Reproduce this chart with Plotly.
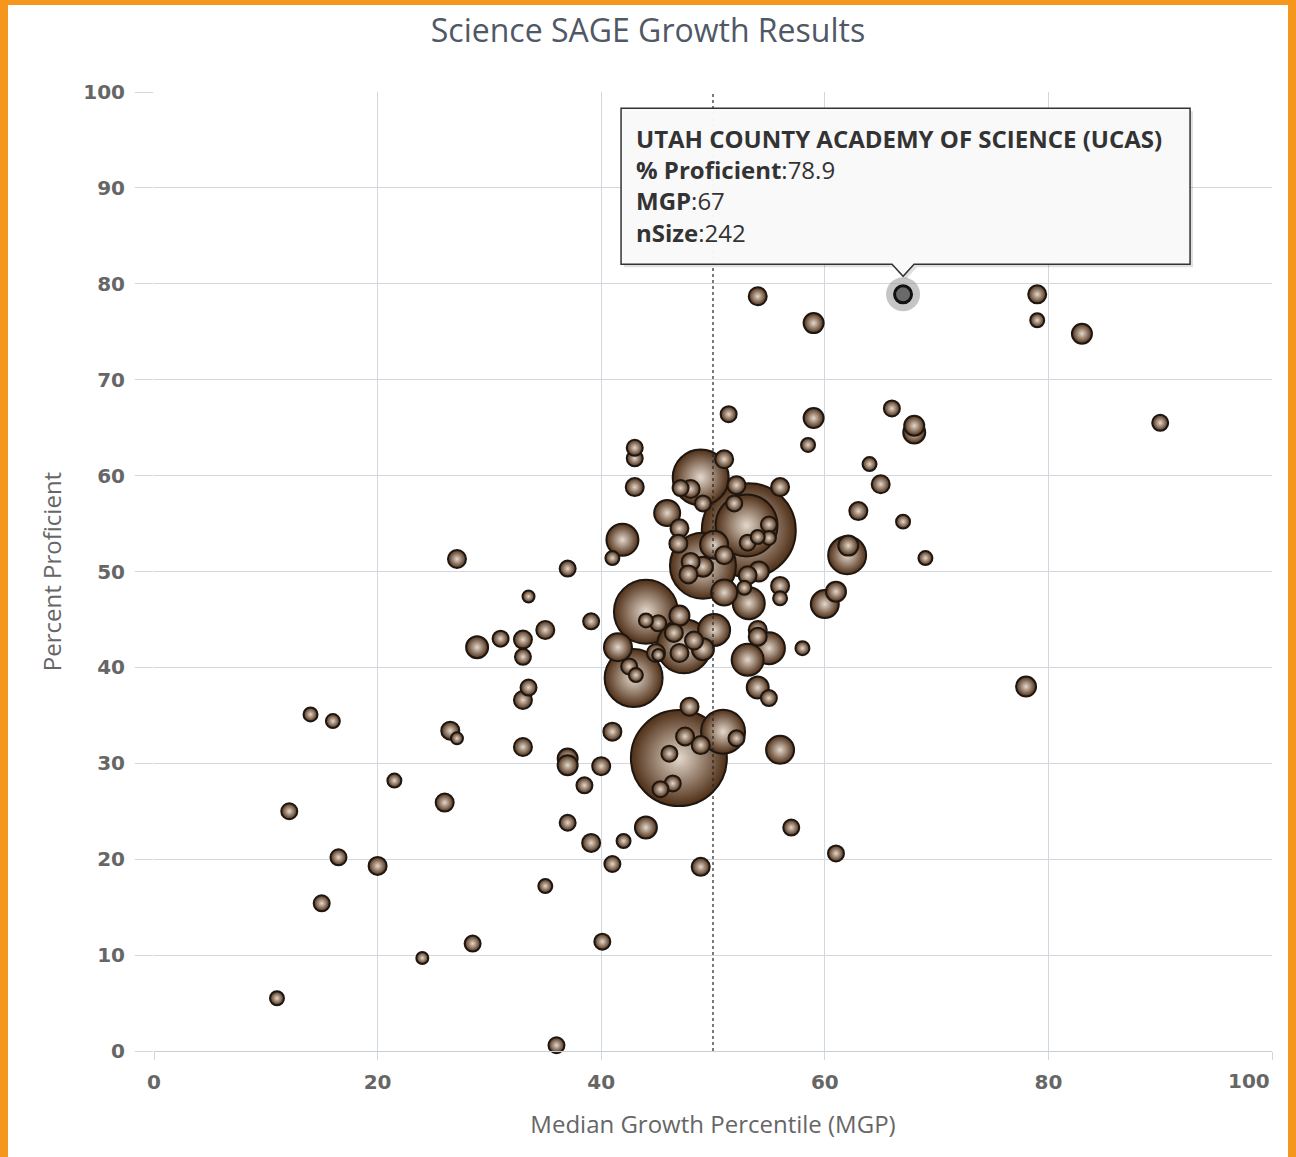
import plotly.graph_objects as go

title_text = "Science SAGE Growth Results"
x_title = "Median Growth Percentile (MGP)"
y_title = "Percent Proficient"

x_tick_vals = [0, 20, 40, 60, 80, 100]
y_tick_vals = [0, 10, 20, 30, 40, 50, 60, 70, 80, 90, 100]
reference_mgp = 50

# Median Growth Percentile per school
mgp = [11.0, 36.0, 24.0, 28.5, 40.1, 15.0, 35.0, 20.0, 16.5, 41.0,
       48.9, 61.0, 12.1, 26.0, 39.1, 42.0, 44.0, 37.0, 57.0, 21.5,
       38.5, 40.0, 37.0, 37.0, 33.0, 41.0, 26.5, 27.1, 14.0, 16.0,
       33.0, 33.5, 28.9, 31.0, 33.0, 33.0, 35.0, 33.5, 39.1, 27.1,
       37.0, 41.0, 41.9, 43.0, 43.0, 43.0, 51.4, 54.0, 59.0, 67.0,
       79.0, 79.0, 83.0, 90.0, 78.0, 66.0, 68.0, 68.0, 59.0, 58.5,
       64.0, 65.0, 63.0, 67.0, 69.0, 62.0, 62.1, 61.0, 60.0, 58.0,
       56.0, 56.0, 56.0, 56.0, 55.0, 54.0, 55.0, 53.1, 54.0, 54.0,
       53.2, 50.9, 52.1, 46.95, 47.9, 47.5, 48.9, 46.1, 46.4, 45.3,
       42.9, 42.5, 43.1, 44.0, 41.5, 44.0, 45.1, 47.0, 46.5, 44.9,
       45.1, 47.0, 48.3, 49.1, 50.1, 47.4, 51.0, 52.8, 54.1, 48.9,
       51.0, 47.1, 48.0, 49.1, 52.1, 53.2, 53.0, 51.9, 55.0, 55.0,
       54.0, 53.1, 45.9, 47.0, 46.9, 50.1, 51.0, 49.1, 48.0, 49.1,
       47.8, 53.1]

# Percent proficient per school
pct_proficient = [5.5, 0.6, 9.7, 11.2, 11.4, 15.4, 17.2, 19.3, 20.2, 19.5,
                  19.2, 20.6, 25.0, 25.9, 21.7, 21.9, 23.3, 23.8, 23.3, 28.2,
                  27.7, 29.7, 30.5, 29.8, 31.7, 33.3, 33.4, 32.6, 35.1, 34.4,
                  36.6, 37.9, 42.1, 43.0, 42.9, 41.1, 43.9, 47.4, 44.8, 51.3,
                  50.3, 51.4, 53.3, 58.8, 61.8, 62.9, 66.4, 78.7, 75.9, 78.9,
                  78.9, 76.2, 74.8, 65.5, 38.0, 67.0, 65.2, 64.5, 66.0, 63.2,
                  61.2, 59.1, 56.3, 55.2, 51.4, 51.7, 52.7, 47.9, 46.6, 42.0,
                  31.4, 48.5, 47.2, 58.8, 36.8, 37.9, 42.0, 40.8, 43.9, 43.2,
                  46.7, 33.3, 32.6, 30.55, 35.9, 32.8, 31.9, 31.0, 27.9, 27.3,
                  38.9, 40.1, 39.2, 45.8, 42.1, 44.9, 44.6, 45.4, 43.6, 41.5,
                  41.3, 41.5, 42.8, 41.9, 43.9, 42.2, 47.8, 48.3, 50.0, 59.8,
                  61.7, 58.7, 58.6, 57.1, 59.0, 54.3, 54.8, 57.1, 54.9, 53.5,
                  53.6, 53.0, 56.1, 54.5, 52.9, 52.8, 51.7, 50.6, 51.0, 50.5,
                  49.7, 49.6]

# Number of students tested per school
n_size = [185, 242, 136, 242, 242, 242, 185, 306, 242, 242,
          306, 242, 242, 306, 306, 185, 457, 242, 242, 185,
          242, 306, 378, 378, 306, 306, 306, 136, 185, 185,
          306, 242, 457, 242, 306, 242, 306, 136, 242, 306,
          242, 185, 968, 306, 242, 242, 242, 306, 378, 242,
          306, 185, 378, 242, 378, 242, 378, 457, 378, 185,
          185, 306, 306, 185, 185, 1365, 378, 378, 741, 185,
          741, 306, 185, 306, 242, 457, 968, 968, 306, 306,
          968, 1830, 242, 8712, 306, 306, 306, 242, 242, 242,
          3180, 242, 185, 3872, 741, 185, 242, 378, 306, 306,
          136, 306, 306, 457, 968, 2757, 639, 185, 378, 2964,
          306, 242, 306, 242, 306, 8353, 3633, 242, 242, 185,
          185, 242, 639, 306, 306, 741, 306, 4118, 306, 378,
          306, 306]

highlight_name = "UTAH COUNTY ACADEMY OF SCIENCE (UCAS)"
highlight_mgp = 67.0
highlight_pct = 78.9
highlight_n = 242

# ---- styling ----
W, H = 1296, 1157
ML, MR, MT, MB = 154, 24, 92, 106
PW, PH = W - ML - MR, H - MT - MB
orange = "#f5961d"
grid_col = "#d3d8e0"
label_col = "#666666"
font_fam = "Open Sans, Noto Sans, sans-serif"
tick_fam = "DejaVu Sans, Verdana, sans-serif"

# draw large bubbles first so the small ones sit on top
order = sorted(range(len(mgp)), key=lambda i: -n_size[i])
xs = [mgp[i] for i in order]
ys = [pct_proficient[i] for i in order]
ns = [n_size[i] for i in order]

sizeref = 2.0 * 242 / (16 ** 2)

fig = go.Figure()
fig.add_trace(go.Scatter(
    x=xs, y=ys, mode="markers",
    marker=dict(size=ns, sizemode="area", sizeref=sizeref,
                color="#4e2e16",
                gradient=dict(type="radial", color="#e4d8cc"),
                line=dict(color="#1e1610", width=2),
                opacity=1),
    cliponaxis=False, hoverinfo="skip", showlegend=False))

# highlighted point: halo + grey marker
fig.add_trace(go.Scatter(
    x=[highlight_mgp], y=[highlight_pct], mode="markers",
    marker=dict(size=34, color="rgba(140,140,140,0.5)", line=dict(width=0)),
    cliponaxis=False, hoverinfo="skip", showlegend=False))
fig.add_trace(go.Scatter(
    x=[highlight_mgp], y=[highlight_pct], mode="markers",
    marker=dict(size=17, color="#6a6a6a", line=dict(color="#111111", width=3)),
    cliponaxis=False, hoverinfo="skip", showlegend=False))

# reference line at MGP 50
fig.add_shape(type="line", xref="x", yref="y",
              x0=reference_mgp, x1=reference_mgp, y0=0, y1=100,
              line=dict(color="#222222", width=1.2, dash="dot"), layer="above")

# tooltip callout, pixel sized and anchored on the highlighted point
box_path = "M -282,30 L -11,30 L 0,18 L 11,30 L 287,30 L 287,186 L -282,186 Z"
shadow_path = "M -279,27 L -8,27 L 3,15 L 14,27 L 290,27 L 290,183 L -279,183 Z"
fig.add_shape(type="path", xref="x", yref="y", xsizemode="pixel", ysizemode="pixel",
              xanchor=highlight_mgp, yanchor=highlight_pct, path=shadow_path,
              fillcolor="rgba(0,0,0,0.12)", line=dict(width=0), layer="above")
fig.add_shape(type="path", xref="x", yref="y", xsizemode="pixel", ysizemode="pixel",
              xanchor=highlight_mgp, yanchor=highlight_pct, path=box_path,
              fillcolor="rgba(250,250,250,0.97)", line=dict(color="#333333", width=1.5),
              layer="above")

tip_text = (f"<b>{highlight_name}</b><br>"
            f"<b>% Proficient</b>:{highlight_pct}<br>"
            f"<b>MGP</b>:{highlight_mgp:g}<br>"
            f"<b>nSize</b>:{highlight_n}")
fig.add_annotation(x=highlight_mgp, y=highlight_pct, xref="x", yref="y",
                   text=tip_text, showarrow=False, align="left",
                   xanchor="left", yanchor="top", xshift=-269, yshift=174,
                   font=dict(family=font_fam, size=24, color="#333333"))

# orange frame
def px_x(p):
    return (p - ML) / PW

def px_y(p):
    return 1 - (p - MT) / PH

for (a, b, c, d) in [(0, 8, 0, H), (W - 8, W, 0, H), (0, W, 0, 5)]:
    fig.add_shape(type="rect", xref="paper", yref="paper",
                  x0=px_x(a), x1=px_x(b), y0=px_y(d), y1=px_y(c),
                  fillcolor=orange, line=dict(width=0), layer="above")

tick_font = dict(family=tick_fam, size=20, color=label_col, weight="bold")

# last x tick label sits right-aligned at the plot edge
x_tick_text = [str(v) for v in x_tick_vals]
x_tick_text[-1] = ""
fig.add_annotation(x=x_tick_vals[-1], y=0, xref="x", yref="paper",
                   text=str(x_tick_vals[-1]), showarrow=False,
                   xanchor="right", yanchor="top", yshift=-16,
                   font=tick_font)

fig.update_layout(
    width=W, height=H,
    margin=dict(l=ML, r=MR, t=MT, b=MB),
    paper_bgcolor="white", plot_bgcolor="white",
    title=dict(text=title_text, x=0.5, xref="container", xanchor="center",
               y=1 - 31 / H, yref="container", yanchor="middle",
               font=dict(family=font_fam, size=32, color="#4f5866")),
    font=dict(family=font_fam),
    xaxis=dict(range=[0, 100], tickvals=x_tick_vals, ticktext=x_tick_text,
               showgrid=True, gridcolor=grid_col, gridwidth=1, zeroline=False,
               showline=True, linecolor="#c8ced8", linewidth=1,
               ticks="outside", ticklen=8, tickcolor=grid_col,
               ticklabelstandoff=5,
               tickfont=tick_font,
               title=dict(text=x_title, standoff=23,
                          font=dict(family=font_fam, size=24, color=label_col))),
    yaxis=dict(range=[0, 100], tickvals=y_tick_vals,
               showgrid=True, gridcolor=grid_col, gridwidth=1, zeroline=False,
               showline=False,
               ticks="outside", ticklen=18, tickcolor=grid_col,
               ticklabelstandoff=6,
               tickfont=tick_font,
               title=dict(text=y_title, standoff=14,
                          font=dict(family=font_fam, size=24, color=label_col))),
)

fig.write_html("out.html", config={"displayModeBar": False},
               post_script="document.body.style.margin='0px';")
